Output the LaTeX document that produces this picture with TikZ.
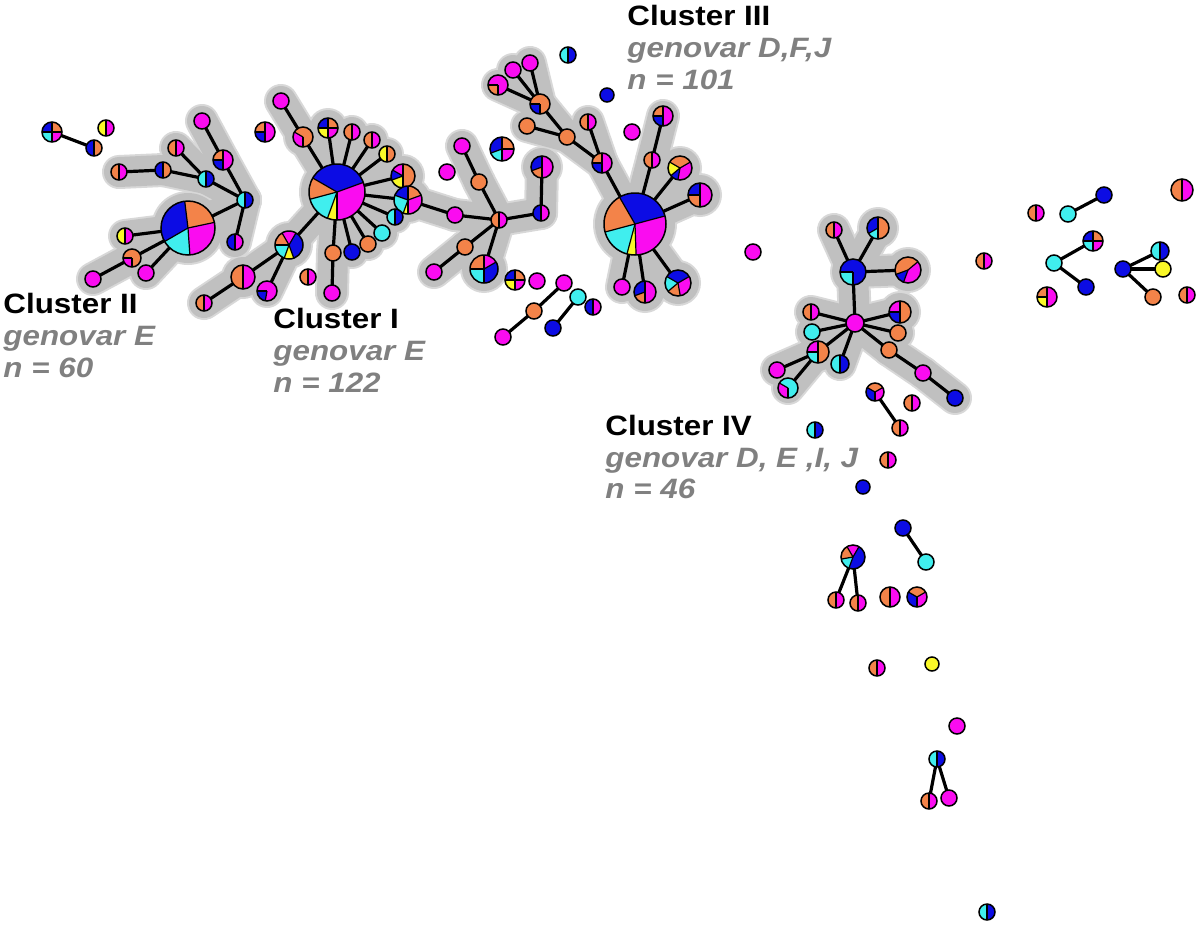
\documentclass[tikz,border=0pt]{standalone}
\usepackage{fontspec}
\setmainfont{Liberation Sans}

\pgfdeclarelayer{halo}
\pgfdeclarelayer{edges}
\pgfsetlayers{halo,edges,main}

\definecolor{orng}{RGB}{243,131,73}
\definecolor{mgnt}{RGB}{250,12,240}
\definecolor{blu}{RGB}{12,12,228}
\definecolor{cyn}{RGB}{64,238,238}
\definecolor{ylw}{RGB}{250,248,40}
\definecolor{halofill}{RGB}{192,192,192}
\definecolor{haloedge}{RGB}{216,216,216}
\definecolor{infogray}{RGB}{128,128,128}

\newcommand{\pienode}[4]{%
  \pgfmathsetlengthmacro{\pr}{#3*0.5pt}%
  \node[pienode, minimum size=#3pt] (#1) at (#2) {};
  \foreach \sa/\sb/\sc in {#4}{\fill[\sc] (#1.center) -- ++(\sa:\pr) arc[start angle=\sa, end angle=\sb, radius=\pr] -- cycle;}
  \foreach \sa/\sb/\sc in {#4}{\draw[slice] (#1.center) -- ++(\sa:\pr);}
  \draw[rim] (#1.center) circle[radius=\pr];
}
\newcommand{\halfnode}[5]{\pienode{#1}{#2}{#3}{90/270/#4,-90/90/#5}}
\newcommand{\onenode}[4]{\node[pienode, minimum size=#3pt, fill=#4, draw=black, line width=0.75pt] (#1) at (#2) {};}

\begin{document}
\begin{tikzpicture}[x=0.5pt, y=-0.5pt]
                \tikzstyle{pienode} = [circle, inner sep=0pt, outer sep=0pt]
                \tikzstyle{slice} = [black, line width=0.6pt]
                \tikzstyle{rim} = [black, line width=0.75pt]
                \tikzstyle{link} = [draw=black, line width=1.6pt]
                \tikzstyle{haloout} = [draw=haloedge, line width=17pt, line cap=round]
                \tikzstyle{haloin} = [draw=halofill, line width=15pt, line cap=round]
                \tikzstyle{clname} = [anchor=base west, inner sep=0pt, xscale=1.12, font=\fontsize{14}{16}\selectfont\bfseries]
                \tikzstyle{clinfo} = [clname, text=infogray, font=\fontsize{14}{16}\selectfont\bfseries\itshape]
                \useasboundingbox (0,0) rectangle (1200,927);

                % loose nodes, top left
                \pienode{a1}{52,132}{10}{90/180/blu,0/90/orng,180/270/cyn,270/360/mgnt}
                \halfnode{a2}{94,148}{8}{blu}{orng}
                \halfnode{a3}{106,128}{8}{ylw}{mgnt}

                % cluster II
                \pienode{II0}{188,228}{27}{12/97/orng,97/210/blu,210/274/cyn,274/372/mgnt}
                \halfnode{II1}{125,236}{8}{ylw}{mgnt}
                \pienode{II2}{132,258}{9}{-90/180/orng,180/270/mgnt}
                \onenode{II3}{93,279}{8}{mgnt}
                \onenode{II4}{146,273}{8}{mgnt}
                \halfnode{II5}{245,200}{8}{cyn}{blu}
                \halfnode{II6}{235,242}{8}{blu}{mgnt}
                \halfnode{II7}{206,179}{8}{cyn}{blu}
                \pienode{II8}{223,160}{10}{90/180/orng,180/270/blu,-90/90/mgnt}
                \onenode{II9}{202,121}{8}{mgnt}
                \halfnode{II10}{176,148}{8}{orng}{mgnt}
                \halfnode{II11}{163,170}{8}{blu}{orng}
                \halfnode{II12}{119,172}{8}{orng}{mgnt}

                % cluster I
                \pienode{I0}{337,192}{28}{20/150/blu,150/195/orng,195/250/cyn,250/270/ylw,270/380/mgnt}
                \onenode{I1}{281,101}{8}{mgnt}
                \pienode{I2}{303,137}{10}{-90/150/orng,150/270/mgnt}
                \pienode{I3}{328,128}{10}{90/180/blu,0/90/orng,180/270/ylw,270/360/mgnt}
                \halfnode{I4}{352,132}{8}{orng}{mgnt}
                \halfnode{I5}{372,140}{8}{orng}{mgnt}
                \halfnode{I6}{387,154}{8}{ylw}{orng}
                \pienode{I7}{403,176}{12}{90/150/mgnt,150/200/blu,200/270/ylw,-90/90/orng}
                \pienode{I8}{408,200}{14}{20/90/orng,90/160/blu,160/250/cyn,250/270/ylw,270/380/mgnt}
                \halfnode{I9}{395,217}{8}{cyn}{blu}
                \onenode{I10}{382,233}{8}{cyn}
                \onenode{I11}{368,244}{8}{orng}
                \onenode{I12}{352,252}{8}{blu}
                \onenode{I13}{333,253}{8}{orng}
                \onenode{I14}{332,293}{8}{mgnt}
                \pienode{I15}{289,245}{14}{60/120/mgnt,120/180/orng,180/250/cyn,250/290/ylw,290/420/blu}
                \halfnode{I16}{243,277}{12}{orng}{mgnt}
                \pienode{I17}{267,291}{10}{180/260/blu,-100/180/mgnt}
                \halfnode{I18}{204,303}{8}{orng}{mgnt}
                \halfnode{I19}{308,277}{8}{orng}{mgnt}
                \pienode{I20}{265,132}{10}{90/180/orng,180/270/blu,-90/90/mgnt}

                % side branch of cluster I
                \halfnode{M0}{499,220}{8}{orng}{mgnt}
                \onenode{M1}{455,215}{8}{mgnt}
                \onenode{M2}{479,182}{8}{orng}
                \onenode{M3}{462,146}{8}{mgnt}
                \halfnode{M4}{541,213}{8}{blu}{mgnt}
                \pienode{M5}{542,167}{11}{90/200/blu,200/270/orng,-90/90/mgnt}
                \onenode{M6}{465,247}{8}{orng}
                \onenode{M7}{434,272}{8}{mgnt}
                \pienode{M8}{484,269}{14}{90/180/orng,30/90/mgnt,-90/30/blu,180/270/cyn}

                % loose nodes, middle
                \pienode{L1}{502,149}{12}{0/90/orng,-90/0/mgnt,200/270/cyn,90/200/blu}
                \onenode{L2}{447,172}{8}{mgnt}
                \pienode{L3}{515,280}{10}{90/180/blu,0/90/orng,180/270/ylw,270/360/mgnt}
                \onenode{L4}{537,281}{8}{mgnt}
                \onenode{L5}{564,283}{8}{mgnt}
                \onenode{L6}{534,311}{8}{orng}
                \onenode{L7}{503,337}{8}{mgnt}
                \onenode{L8}{578,297}{8}{cyn}
                \onenode{L9}{553,328}{8}{blu}
                \halfnode{L10}{593,307}{8}{blu}{mgnt}

                % cluster III
                \pienode{III0}{635,224}{31}{15/120/blu,120/195/orng,195/255/cyn,255/272/ylw,272/375/mgnt}
                \pienode{III1}{663,116}{10}{90/180/orng,180/270/blu,-90/90/mgnt}
                \halfnode{III2}{652,160}{8}{orng}{mgnt}
                \pienode{III3}{680,168}{12}{30/150/orng,150/220/ylw,220/260/blu,260/390/mgnt}
                \pienode{III4}{700,195}{12}{90/180/blu,180/270/orng,-90/90/mgnt}
                \pienode{III5}{678,283}{13}{30/150/blu,150/220/cyn,220/280/orng,280/390/mgnt}
                \pienode{III6}{645,292}{11}{90/200/blu,200/270/orng,-90/90/mgnt}
                \onenode{III7}{622,287}{8}{mgnt}
                \pienode{III8}{602,163}{10}{90/180/orng,180/270/blu,-90/90/mgnt}
                \halfnode{III9}{588,122}{8}{orng}{mgnt}
                \onenode{III10}{567,137}{8}{orng}
                \onenode{III11}{527,126}{8}{orng}
                \pienode{III12}{540,104}{10}{-90/180/orng,180/270/blu}
                \pienode{III13}{498,85}{10}{-90/180/mgnt,180/270/orng}
                \onenode{III14}{513,70}{8}{mgnt}
                \onenode{III15}{530,63}{8}{mgnt}
                \onenode{L11}{632,132}{8}{mgnt}
                \onenode{L12}{607,95}{7}{blu}
                \halfnode{L13}{568,55}{8}{cyn}{blu}

                % cluster IV
                \onenode{IV0}{855,323}{9}{mgnt}
                \pienode{IV1}{853,272}{13}{180/270/cyn,-90/180/blu}
                \halfnode{IV2}{834,230}{8}{orng}{mgnt}
                \pienode{IV3}{878,228}{11}{90/210/blu,210/270/cyn,-90/90/orng}
                \pienode{IV4}{908,270}{13}{40/200/orng,200/250/blu,250/400/mgnt}
                \halfnode{IV5}{811,312}{8}{orng}{mgnt}
                \pienode{IV6}{900,312}{11}{90/180/mgnt,180/270/blu,-90/90/orng}
                \onenode{IV7}{812,332}{8}{cyn}
                \onenode{IV8}{898,333}{8}{orng}
                \pienode{IV9}{818,352}{11}{90/180/mgnt,180/270/cyn,-90/90/orng}
                \onenode{IV10}{889,350}{8}{orng}
                \onenode{IV11}{923,373}{8}{mgnt}
                \onenode{IV12}{955,398}{8}{blu}
                \halfnode{IV13}{840,364}{9}{cyn}{blu}
                \onenode{IV14}{777,370}{8}{mgnt}
                \pienode{IV15}{788,388}{10}{150/270/mgnt,-90/150/cyn}
                \onenode{L14}{753,252}{8}{mgnt}
                \pienode{L15}{875,392}{9}{30/150/orng,150/270/blu,-90/30/mgnt}
                \halfnode{L16}{900,428}{8}{orng}{mgnt}
                \halfnode{L17}{912,403}{8}{orng}{mgnt}
                \halfnode{L18}{815,430}{8}{cyn}{blu}
                \halfnode{L19}{888,460}{8}{orng}{mgnt}
                \onenode{L20}{863,487}{7}{blu}

                % right group
                \halfnode{R1}{1182,190}{11}{orng}{mgnt}
                \onenode{R2}{1104,195}{8}{blu}
                \onenode{R3}{1068,214}{8}{cyn}
                \halfnode{R4}{1036,213}{8}{orng}{mgnt}
                \pienode{R5}{1093,241}{10}{90/180/blu,0/90/orng,180/270/cyn,270/360/mgnt}
                \onenode{R6}{1054,263}{8}{cyn}
                \onenode{R7}{1086,287}{8}{blu}
                \halfnode{R8}{984,261}{8}{orng}{mgnt}
                \halfnode{R9}{1160,251}{9}{cyn}{blu}
                \onenode{R10}{1123,269}{8}{blu}
                \onenode{R11}{1163,269}{8}{ylw}
                \onenode{R12}{1153,297}{8}{orng}
                \pienode{R13}{1047,297}{10}{90/180/orng,180/270/ylw,-90/90/mgnt}
                \halfnode{R14}{1187,295}{8}{orng}{mgnt}

                % lower tail
                \onenode{D1}{903,528}{8}{blu}
                \onenode{D2}{926,562}{8}{cyn}
                \pienode{D3}{853,557}{12}{60/120/mgnt,120/190/orng,190/250/cyn,250/420/blu}
                \halfnode{D4}{836,600}{8}{orng}{mgnt}
                \halfnode{D5}{858,603}{8}{orng}{mgnt}
                \halfnode{D6}{890,597}{10}{orng}{mgnt}
                \pienode{D7}{917,597}{10}{30/150/orng,150/270/blu,-90/30/mgnt}
                \halfnode{D8}{877,668}{8}{orng}{mgnt}
                \onenode{D9}{932,664}{7}{ylw}
                \onenode{D10}{957,726}{8}{mgnt}
                \halfnode{D11}{937,759}{8}{cyn}{blu}
                \halfnode{D12}{929,801}{8}{orng}{mgnt}
                \onenode{D13}{949,798}{8}{mgnt}
                \halfnode{D14}{987,912}{8}{cyn}{blu}

                \def\treelinks{II0/II1,II0/II2,II2/II3,II0/II4,II0/II5,II5/II6,II5/II7,II5/II8,II8/II9,II7/II10,II7/II11,II11/II12,
                  I0/I2,I2/I1,I0/I3,I0/I4,I0/I5,I0/I6,I0/I7,I0/I8,I0/I9,I0/I10,I0/I11,I0/I12,I0/I13,I13/I14,I0/I15,I15/I16,I15/I17,I16/I18,I8/M1,
                  M0/M1,M0/M2,M2/M3,M0/M4,M4/M5,M0/M6,M6/M7,M0/M8,
                  III0/III2,III2/III1,III0/III3,III0/III4,III0/III5,III0/III6,III0/III7,III0/III8,III8/III9,III8/III10,III10/III11,III10/III12,III12/III13,III12/III14,III12/III15,
                  IV0/IV1,IV1/IV2,IV1/IV3,IV1/IV4,IV0/IV5,IV0/IV6,IV0/IV7,IV0/IV8,IV0/IV9,IV0/IV10,IV10/IV11,IV11/IV12,IV0/IV13,IV9/IV14,IV9/IV15}
                \def\looselinks{a1/a2,L5/L6,L6/L7,L8/L9,L15/L16,R2/R3,R5/R6,R6/R7,R10/R9,R10/R11,R10/R12,D1/D2,D3/D4,D3/D5,D11/D12,D11/D13}
                \def\halodiscs{II0/35,I0/36,III0/40,I2/18,I3/18,I7/20,I8/22,I15/22,I16/20,M5/19,M8/22,III3/20,III4/20,III5/21,III6/19,IV1/21,IV3/19,IV4/21,IV6/19,IV9/19}

                \begin{pgfonlayer}{halo}
                \foreach \u/\v in \treelinks {\draw[haloout] (\u.center) -- (\v.center);}
                \foreach \n/\r in \halodiscs {\fill[haloedge] (\n.center) circle[radius=\r*0.5pt+1pt];}
                \foreach \u/\v in \treelinks {\draw[haloin] (\u.center) -- (\v.center);}
                \foreach \n/\r in \halodiscs {\fill[halofill] (\n.center) circle[radius=\r*0.5pt];}
                \end{pgfonlayer}

                \begin{pgfonlayer}{edges}
                \foreach \u/\v in \treelinks {\draw[link] (\u) -- (\v);}
                \foreach \u/\v in \looselinks {\draw[link] (\u) -- (\v);}
                \end{pgfonlayer}

                \node[clname] (nameII) at (3,313) {Cluster II};
                \node[clinfo] (genII) at (3,345) {genovar E};
                \node[clinfo] (sizeII) at (3,377) {n = 60};
                \node[clname] (nameI) at (273,328) {Cluster I};
                \node[clinfo] (genI) at (273,360) {genovar E};
                \node[clinfo] (sizeI) at (273,392) {n = 122};
                \node[clname] (nameIII) at (627,25) {Cluster III};
                \node[clinfo] (genIII) at (627,57) {genovar D,F,J};
                \node[clinfo] (sizeIII) at (627,89) {n = 101};
                \node[clname] (nameIV) at (605,435) {Cluster IV};
                \node[clinfo] (genIV) at (605,467) {genovar D, E ,I, J};
                \node[clinfo] (sizeIV) at (605,498) {n = 46};
            \end{tikzpicture}
\end{document}
